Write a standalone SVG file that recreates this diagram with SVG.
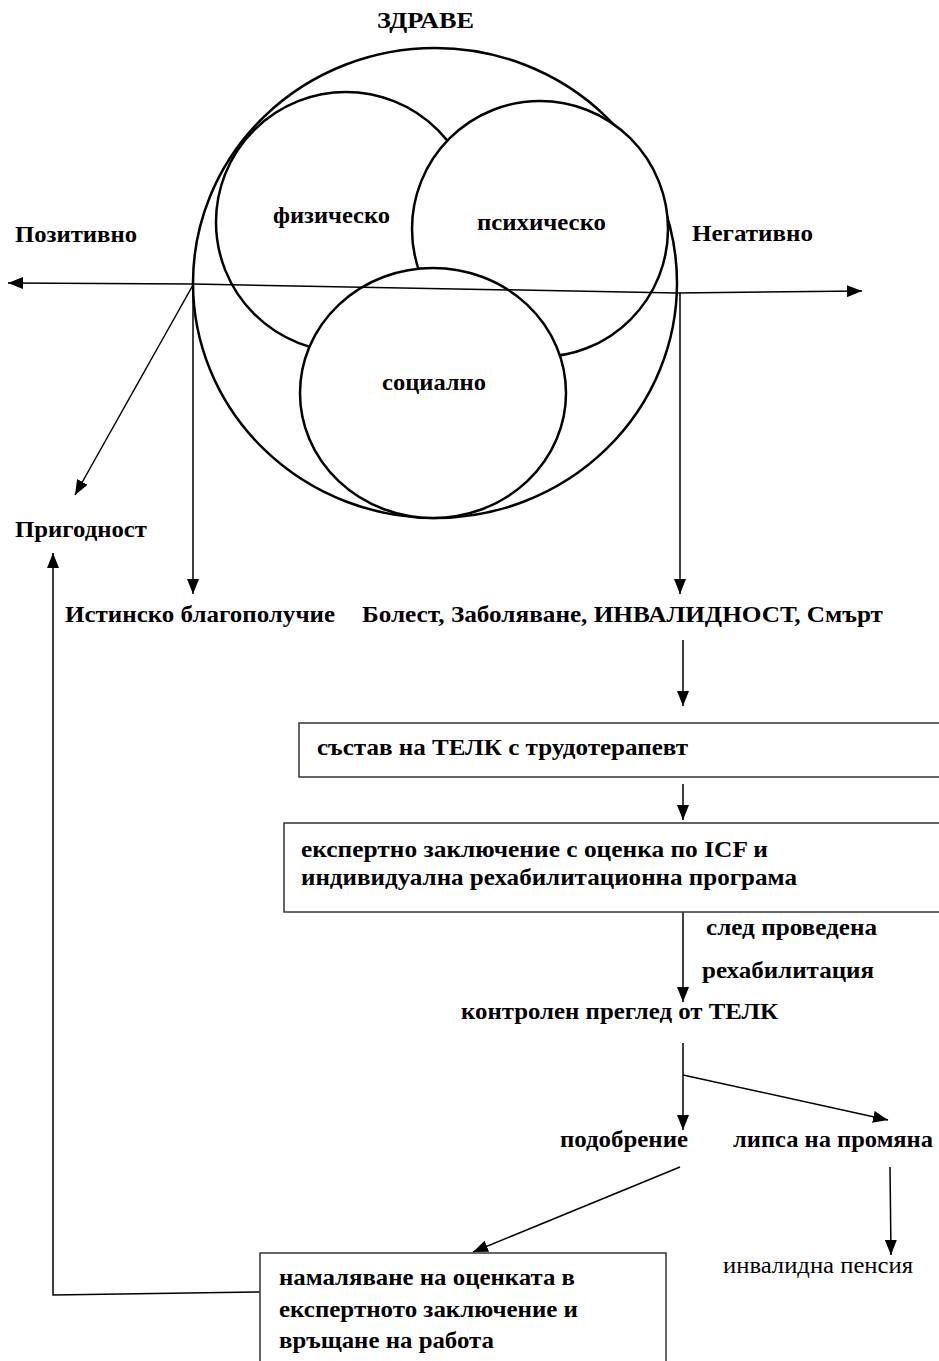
<svg xmlns="http://www.w3.org/2000/svg" width="939" height="1361" viewBox="0 0 939 1361">
<style>
.t{font-family:"Liberation Serif","Times New Roman",serif;font-weight:bold;font-size:24px;fill:#000}
.n{font-family:"Liberation Serif","Times New Roman",serif;font-weight:normal;font-size:24px;fill:#000}
.c{fill:#fff;stroke:#000;stroke-width:2.5}
.box{fill:#fff;stroke:#333;stroke-width:1.5}
.ln{fill:none;stroke:#000;stroke-width:1.5}
</style>
<defs>
<marker id="ah" viewBox="0 0 15 12" refX="15" refY="6" markerWidth="15" markerHeight="12" markerUnits="userSpaceOnUse" orient="auto-start-reverse">
<path d="M0,0 L15,6 L0,12 z" fill="#000"/>
</marker>
</defs>
<rect width="939" height="1361" fill="#fff"/>
<g id="health">
<ellipse cx="435" cy="283" rx="242" ry="235" fill="none" stroke="#000" stroke-width="2.5"/>
<text class="t" x="377" y="28" textLength="97" lengthAdjust="spacingAndGlyphs">ЗДРАВЕ</text>
</g>
<g id="physical">
<circle class="c" cx="346" cy="222" r="130"/>
</g>
<g id="psychic">
<circle class="c" cx="540" cy="229" r="128"/>
</g>
<g id="social">
<ellipse class="c" cx="433" cy="393" rx="133" ry="125"/>
</g>
<g id="connectors">
<polyline class="ln" points="8,283 193,284 677,293 862,291" marker-start="url(#ah)" marker-end="url(#ah)"/>
<line class="ln" x1="193" y1="285" x2="75" y2="495" marker-end="url(#ah)"/>
<line class="ln" x1="193" y1="285" x2="193" y2="594" marker-end="url(#ah)"/>
<line class="ln" x1="680" y1="293" x2="680" y2="594" marker-end="url(#ah)"/>
<line class="ln" x1="683" y1="640" x2="683" y2="706" marker-end="url(#ah)"/>
<line class="ln" x1="683" y1="784" x2="683" y2="820" marker-end="url(#ah)"/>
<line class="ln" x1="683" y1="912" x2="683" y2="1002" marker-end="url(#ah)"/>
<line class="ln" x1="683" y1="1043" x2="683" y2="1130" marker-end="url(#ah)"/>
<line class="ln" x1="683" y1="1075" x2="888" y2="1120" marker-end="url(#ah)"/>
<line class="ln" x1="680" y1="1167" x2="473" y2="1252" marker-end="url(#ah)"/>
<line class="ln" x1="890" y1="1167" x2="891" y2="1255" marker-end="url(#ah)"/>
<polyline class="ln" points="260,1292 53,1295 53,553" marker-end="url(#ah)"/>
</g>
<g id="labels">
<text class="t" x="273" y="223" textLength="117" lengthAdjust="spacingAndGlyphs">физическо</text>
<text class="t" x="477" y="230" textLength="129" lengthAdjust="spacingAndGlyphs">психическо</text>
<text class="t" x="382" y="390" textLength="104" lengthAdjust="spacingAndGlyphs">социално</text>
</g>
<g id="positive"><text class="t" x="15" y="242" textLength="122" lengthAdjust="spacingAndGlyphs">Позитивно</text></g>
<g id="negative"><text class="t" x="692" y="241" textLength="121" lengthAdjust="spacingAndGlyphs">Негативно</text></g>
<g id="fitness"><text class="t" x="15" y="537" textLength="132" lengthAdjust="spacingAndGlyphs">Пригодност</text></g>
<g id="wellbeing"><text class="t" x="65" y="622" textLength="270" lengthAdjust="spacingAndGlyphs">Истинско благополучие</text></g>
<g id="illness"><text class="t" x="362" y="622" textLength="521" lengthAdjust="spacingAndGlyphs">Болест, Заболяване, ИНВАЛИДНОСТ, Смърт</text></g>
<g id="telk">
<rect class="box" x="299" y="723" width="650" height="54"/>
<text class="t" x="317" y="755" textLength="371" lengthAdjust="spacingAndGlyphs">състав на ТЕЛК с трудотерапевт</text>
</g>
<g id="expert">
<rect class="box" x="284" y="823" width="665" height="89"/>
<text class="t" x="301" y="857" textLength="467" lengthAdjust="spacingAndGlyphs">експертно заключение с оценка по ICF и</text>
<text class="t" x="301" y="885" textLength="496" lengthAdjust="spacingAndGlyphs">индивидуална рехабилитационна програма</text>
</g>
<g id="after-rehab">
<text class="t" x="706" y="935" textLength="171" lengthAdjust="spacingAndGlyphs">след проведена</text>
<text class="t" x="702" y="978" textLength="172" lengthAdjust="spacingAndGlyphs">рехабилитация</text>
</g>
<g id="control"><text class="t" x="461" y="1019" textLength="317" lengthAdjust="spacingAndGlyphs">контролен преглед от ТЕЛК</text></g>
<g id="improvement"><text class="t" x="560" y="1147" textLength="128" lengthAdjust="spacingAndGlyphs">подобрение</text></g>
<g id="no-change"><text class="t" x="733" y="1147" textLength="200" lengthAdjust="spacingAndGlyphs">липса на промяна</text></g>
<g id="pension"><text class="n" x="723" y="1273" textLength="190" lengthAdjust="spacingAndGlyphs">инвалидна пенсия</text></g>
<g id="return">
<rect class="box" x="260" y="1253" width="406" height="120"/>
<text class="t" x="279" y="1285" textLength="296" lengthAdjust="spacingAndGlyphs">намаляване на оценката в</text>
<text class="t" x="279" y="1317" textLength="299" lengthAdjust="spacingAndGlyphs">експертното заключение и</text>
<text class="t" x="279" y="1348" textLength="215" lengthAdjust="spacingAndGlyphs">връщане на работа</text>
</g>
</svg>
